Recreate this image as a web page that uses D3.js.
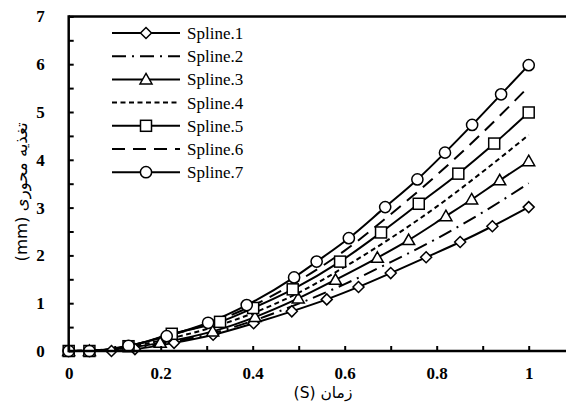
<!DOCTYPE html>
<html><head><meta charset="utf-8">
<script src="https://cdn.jsdelivr.net/npm/d3@7"></script>
<style>
body{margin:0;background:#fff}svg{display:block}
.serif{font-family:"Liberation Serif","DejaVu Serif","Times New Roman",serif;}
.fa{font-family:"DejaVu Sans","Noto Sans",sans-serif;}
</style>
</head><body>
<svg id="c" width="566" height="403"></svg>
<script>
// ---- data ----
const seriesNames = ["Spline.1","Spline.2","Spline.3","Spline.4","Spline.5","Spline.6","Spline.7"];
const s1x = [0,0.045,0.093,0.144,0.229,0.314,0.402,0.485,0.561,0.63,0.70,0.777,0.851,0.921,1.0];
const s1y = [0,0,0,0.04,0.17,0.34,0.58,0.83,1.08,1.34,1.63,1.96,2.28,2.61,3.01];
const s2x = [0,0.1,0.2,0.3,0.4,0.5,0.6,0.7,0.8,0.9,1.0];
const s2y = [0,0.02,0.15,0.34,0.63,0.99,1.40,1.86,2.35,2.90,3.51];
const s3x = [0,0.045,0.199,0.313,0.405,0.499,0.58,0.671,0.739,0.82,0.876,0.937,1.0];
const s3y = [0,0,0.17,0.41,0.71,1.10,1.49,1.95,2.32,2.82,3.17,3.57,3.97];
const s4x = [0,0.1,0.2,0.3,0.4,0.5,0.6,0.7,0.8,0.9,1.0];
const s4y = [0,0.04,0.22,0.46,0.79,1.22,1.76,2.36,3.02,3.75,4.52];
const s5x = [0,0.045,0.13,0.224,0.329,0.401,0.487,0.59,0.679,0.761,0.847,0.925,1.0];
const s5y = [0,0,0.10,0.36,0.61,0.90,1.29,1.87,2.48,3.08,3.71,4.34,4.99];
const s6x = [0,0.1,0.2,0.3,0.4,0.5,0.6,0.7,0.8,0.9,1.0];
const s6y = [0,0.05,0.28,0.56,0.95,1.47,2.10,2.86,3.68,4.57,5.53];
const s7x = [0,0.045,0.13,0.213,0.303,0.387,0.49,0.539,0.609,0.688,0.758,0.818,0.877,0.94,1.0];
const s7y = [0,0,0.11,0.31,0.59,0.96,1.54,1.87,2.36,3.01,3.59,4.15,4.73,5.37,5.98];
const xTicks = [0,0.1,0.2,0.3,0.4,0.5,0.6,0.7,0.8,0.9,1.0];
const xTickLabels = ["0","","0.2","","0.4","","0.6","","0.8","","1"];
const yTicks = [0,0.5,1,1.5,2,2.5,3,3.5,4,4.5,5,5.5,6,6.5,7];
const yTickLabels = ["0","","1","","2","","3","","4","","5","","6","","7"];
const xTitle = "زمان (S)";
const yTitle = "تغذیه محوری (mm)";

// ---- styles ----
const styles = [
  {dash:null, marker:"diamond"},
  {dash:"14,6,2,6", marker:null},
  {dash:null, marker:"triangle"},
  {dash:"5,3.5", marker:null},
  {dash:null, marker:"square"},
  {dash:"13,8", marker:null},
  {dash:null, marker:"circle"}
];
const allX = [s1x,s2x,s3x,s4x,s5x,s6x,s7x];
const allY = [s1y,s2y,s3y,s4y,s5y,s6y,s7y];
const series = seriesNames.map((n,i)=>({name:n, pts: allX[i].map((x,j)=>({x, y: allY[i][j]})), ...styles[i]}));

const svg = d3.select("#c");
const x = d3.scaleLinear().domain([0,1.1]).range([68.7, 68.7+506]);
const y = d3.scaleLinear().domain([0,7]).range([351, 16.4]);
const W = 566;

// lines
const line = d3.line().x(d=>x(d.x)).y(d=>y(d.y)).curve(d3.curveMonotoneX);
const g = svg.append("g");
series.forEach(s=>{
  g.append("path").attr("d", line(s.pts)).attr("fill","none").attr("stroke","#000")
   .attr("stroke-width",2).attr("stroke-dasharray", s.dash);
});

function drawMarker(sel, type, cx, cy){
  const sw = 1.5;
  if(type==="circle") sel.append("circle").attr("cx",cx).attr("cy",cy).attr("r",5.6).attr("fill","#fff").attr("stroke","#000").attr("stroke-width",sw);
  else if(type==="square") sel.append("rect").attr("x",cx-5.5).attr("y",cy-5.5).attr("width",11).attr("height",11).attr("fill","#fff").attr("stroke","#000").attr("stroke-width",sw);
  else if(type==="diamond") sel.append("path").attr("d",`M${cx},${cy-5.5}L${cx+5.5},${cy}L${cx},${cy+5.5}L${cx-5.5},${cy}Z`).attr("fill","#fff").attr("stroke","#000").attr("stroke-width",sw);
  else if(type==="triangle") sel.append("path").attr("d",`M${cx},${cy-6}L${cx+6},${cy+4.5}L${cx-6},${cy+4.5}Z`).attr("fill","#fff").attr("stroke","#000").attr("stroke-width",sw);
}
series.forEach(s=>{
  if(!s.marker) return;
  s.pts.forEach(p=>drawMarker(g, s.marker, x(p.x), y(p.y)));
});

// axes
const xAxis = d3.axisBottom(x).tickValues(xTicks).tickFormat((d,i)=>xTickLabels[i]).tickSizeInner(-5).tickSizeOuter(0).tickPadding(16);
const xa = svg.append("g").attr("transform","translate(0,351)").call(xAxis).attr("font-family",null);
xa.select(".domain").remove();
xa.selectAll(".tick line").attr("stroke-width",2);
xa.selectAll("text").attr("class","serif").attr("font-weight","bold").attr("font-size",17).attr("fill","#000");
svg.append("line").attr("x1",x(0)).attr("x2",W).attr("y1",351).attr("y2",351).attr("stroke","#000").attr("stroke-width",2.5);
svg.append("line").attr("x1",x(0)).attr("x2",W).attr("y1",y(7)).attr("y2",y(7)).attr("stroke","#000").attr("stroke-width",2.5);

const yAxis = d3.axisLeft(y).tickValues(yTicks).tickFormat((d,i)=>yTickLabels[i]).tickSizeInner(-5).tickSizeOuter(0).tickPadding(24);
const ya = svg.append("g").attr("transform",`translate(${x(0)},0)`).call(yAxis).attr("font-family",null);
ya.select(".domain").remove();
ya.selectAll(".tick line").attr("stroke-width",2);
ya.selectAll("text").attr("class","serif").attr("font-weight","bold").attr("font-size",17).attr("fill","#000");
svg.append("line").attr("x1",x(0)).attr("x2",x(0)).attr("y1",y(7)-1.2).attr("y2",352.2).attr("stroke","#000").attr("stroke-width",2.5);

// titles
svg.append("text").attr("class","fa").attr("x",323).attr("y",398).attr("text-anchor","middle").attr("direction","rtl")
  .attr("font-size",15.5).text(xTitle);
svg.append("text").attr("class","fa").attr("transform","translate(27,192) rotate(-90)").attr("text-anchor","middle").attr("direction","rtl")
  .attr("font-size",16.5).text(yTitle);

// legend
const lg = svg.append("g");
series.forEach((s,i)=>{
  const ly = 33 + i*23.2;
  lg.append("line").attr("x1",112).attr("x2",180).attr("y1",ly).attr("y2",ly).attr("stroke","#000").attr("stroke-width",2).attr("stroke-dasharray",s.dash);
  if(s.marker) drawMarker(lg, s.marker, 146, ly);
  lg.append("text").attr("class","serif").attr("x",187).attr("y",ly).attr("dy","0.35em").attr("font-size",17).text(s.name);
});
</script>
</body></html>
